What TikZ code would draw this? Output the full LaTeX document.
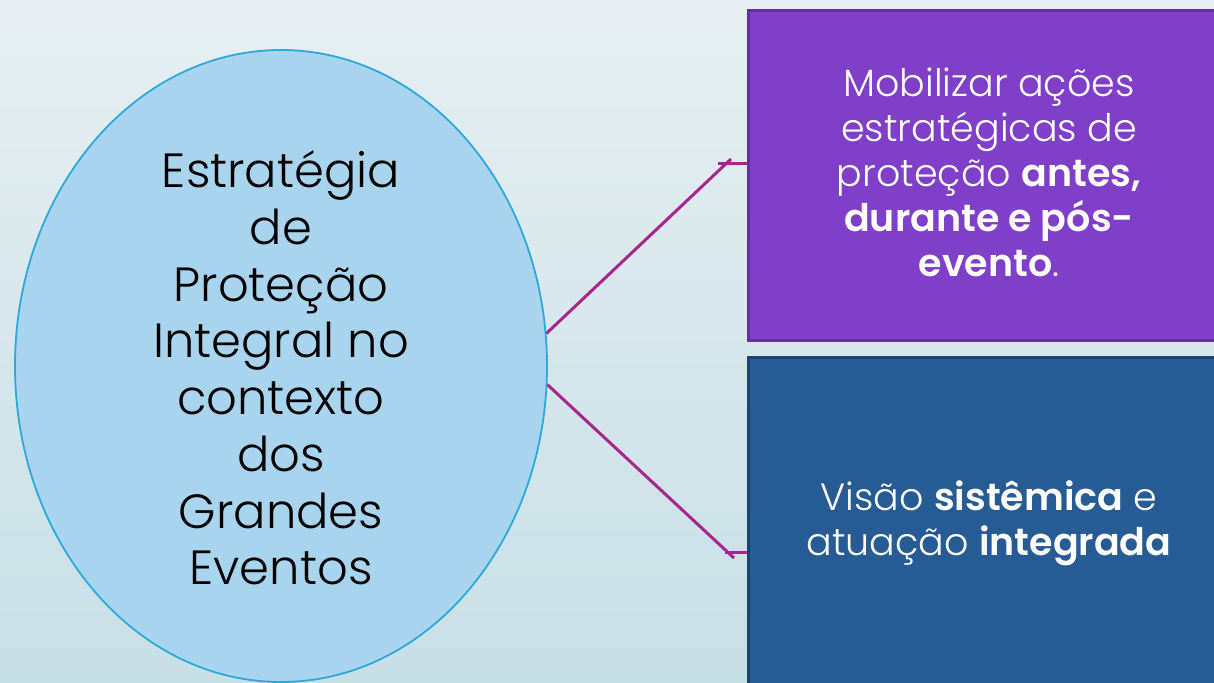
\documentclass[tikz,border=0pt]{standalone}
\usepackage{fontspec}
\setmainfont{Poppins}[UprightFont=* Light, BoldFont=* SemiBold]
\usetikzlibrary{shapes.geometric}
\definecolor{bgtop}{RGB}{231,239,242}
\definecolor{bgbot}{RGB}{198,223,229}
\definecolor{ellfill}{RGB}{168,212,238}
\definecolor{elldraw}{RGB}{44,168,220}
\definecolor{purfill}{RGB}{127,63,201}
\definecolor{purdraw}{RGB}{100,48,160}
\definecolor{blufill}{RGB}{38,91,147}
\definecolor{bludraw}{RGB}{28,68,112}
\definecolor{conn}{RGB}{168,36,142}
\tikzset{
  x=1pt, y=-1pt,
  bigell/.style={ellipse, fill=ellfill, draw=elldraw, line width=1.8pt, minimum width=532pt, minimum height=632pt, inner sep=0pt},
  elltext/.style={align=center, text=black, font=\fontsize{48}{56.7}\selectfont},
  boxtext/.style={align=center, text=white, font=\fontsize{38}{45}\selectfont},
  purbox/.style={rectangle, fill=purfill, draw=purdraw, line width=3pt, minimum width=482pt, minimum height=329pt, inner sep=0pt},
  blubox/.style={rectangle, fill=blufill, draw=bludraw, line width=3pt, minimum width=482pt, minimum height=340pt, inner sep=0pt},
  connline/.style={draw=conn, line width=3pt},
}
\begin{document}
\begin{tikzpicture}
\useasboundingbox (0,0) rectangle (1214,682);
\clip (0,0) rectangle (1214,682);
\fill[top color=bgtop, bottom color=bgbot] (0,0) rectangle (1214,682);
\node[bigell] (ell) at (281,366) {};
\node[elltext] (lbl) at (281,368) {Estratégia\\de\\Proteção\\Integral no\\contexto\\dos\\Grandes\\Eventos};
\node[purbox] (pur) at (989,175.5) {};
\node[boxtext] (purtxt) at (989,172) {Mobilizar ações\\estratégicas de\\proteção \textbf{antes,}\\\textbf{durante e pós-}\\\textbf{evento}.};
\node[blubox] (blu) at (989,527) {};
\node[boxtext] (blutxt) at (989,523) {Visão \textbf{sistêmica} e\\atuação \textbf{integrada}};
\coordinate (k1) at (731,159);
\coordinate (s1) at (718,163);
\coordinate (k2) at (734,558);
\coordinate (s2) at (725,552);
\draw[connline] (ell.7.4) -- (k1);
\draw[connline] (s1) -- (s1 -| pur.west);
\draw[connline] (ell.-4.1) -- (k2);
\draw[connline] (s2) -- (s2 -| blu.west);
\end{tikzpicture}
\end{document}
